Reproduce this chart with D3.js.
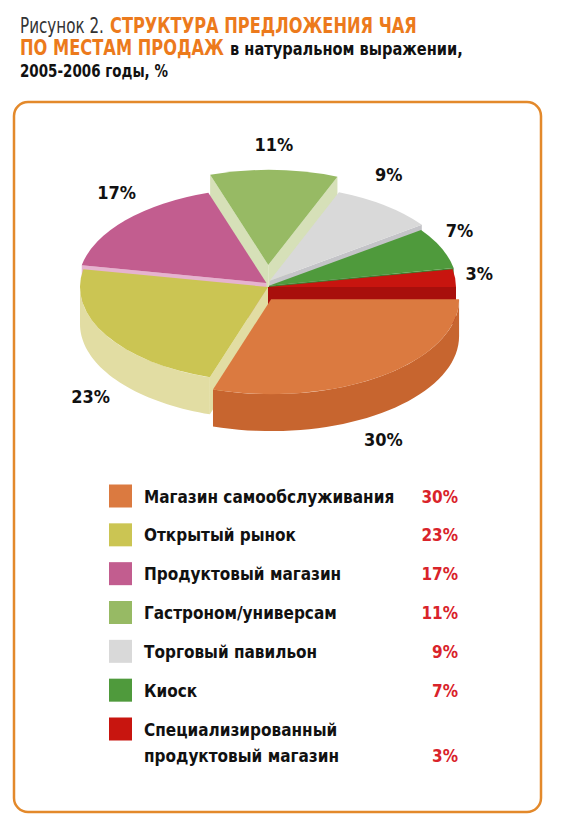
<!DOCTYPE html>
<html>
<head>
<meta charset="utf-8">
<script src="https://cdn.jsdelivr.net/npm/d3@7"></script>
<style>
  body { margin: 0; background: #fff; }
  svg text { font-family: "DejaVu Sans Condensed", "DejaVu Sans", sans-serif; }
</style>
</head>
<body>
<svg id="chart" width="562" height="832"></svg>
<script>
// data
const categories = [
    "Магазин самообслуживания",
    "Открытый рынок",
    "Продуктовый магазин",
    "Гастроном/универсам",
    "Торговый павильон",
    "Киоск",
    "Специализированный\nпродуктовый магазин"
];
const shares = [30, 23, 17, 11, 9, 7, 3];
const shareLabels = ["30%", "23%", "17%", "11%", "9%", "7%", "3%"];

// styles
const topColors  = ["#db7a40", "#cbc553", "#c25d8f", "#97ba64", "#d9d9d9", "#4f9a3c", "#c8150f"];
const sideColors = ["#c7652f", "#e2dda3", "#e6b3cf", "#d6e0b8", "#c4c4c8", "#3f7f2e", "#a80f0c"];
const explode    = [15, 0, 6, 22, 8, 3, 0];

const svg = d3.select('#chart');

// frame
svg.append('rect')
    .attr('x', 14).attr('y', 102)
    .attr('width', 527).attr('height', 710)
    .attr('rx', 14)
    .attr('fill', '#fff')
    .attr('stroke', '#e3892b')
    .attr('stroke-width', 2.5);

// title - condensed by squeezing each piece to its width
const orange = '#ec7a1c';
function titlePart(txt, x, y, w, size, weight, fill) {
    const t = svg.append('text')
        .attr('font-size', size)
        .attr('font-weight', weight)
        .attr('fill', fill)
        .text(txt);
    const sx = w / t.node().getComputedTextLength();
    t.attr('transform', `translate(${x}, ${y}) scale(${sx}, 1)`);
}
titlePart('Рисунок 2.', 20, 33, 84, 21, 'normal', '#333');
titlePart('СТРУКТУРА ПРЕДЛОЖЕНИЯ ЧАЯ', 110, 33, 307, 21, 'bold', orange);
titlePart('ПО МЕСТАМ ПРОДАЖ', 20, 55, 204, 21, 'bold', orange);
titlePart('в натуральном выражении,', 230, 55, 233, 18, 'bold', '#111');
titlePart('2005-2006 годы, %', 20, 77, 148, 18, 'bold', '#111');

// 3d pie
const cx = 268, cy = 287, rx = 188, ry = 95, depth = 37;

const pie = d3.pie()
    .sort(null)
    .value(d => d)
    .startAngle(Math.PI / 2)
    .endAngle(Math.PI / 2 + 2 * Math.PI);

const arcs = pie(shares);
const arc = d3.arc().innerRadius(0).outerRadius(rx);

// screen angle: 0 at 3 o'clock, clockwise
const phi = a => a - Math.PI / 2;
const pt = (p, r = 1) => [rx * r * Math.cos(p), ry * r * Math.sin(p)];
const line = d3.line();

const slices = arcs.map((d, i) => {
    const a0 = phi(d.startAngle), a1 = phi(d.endAngle);
    const mid = (a0 + a1) / 2;
    return {
        d, i, a0, a1, mid,
        ox: Math.cos(mid) * explode[i] * 0.35,
        oy: Math.sin(mid) * explode[i]
    };
});

// back to front
const order = slices.slice().sort((a, b) => Math.sin(a.mid) - Math.sin(b.mid));

const pieG = svg.append('g');

order.forEach(s => {
    const g = pieG.append('g')
        .attr('transform', `translate(${cx + s.ox}, ${cy + s.oy})`);

    // cut faces
    [[s.a0, Math.cos(s.a0) < 0], [s.a1, Math.cos(s.a1) > 0]].forEach(([a, vis]) => {
        if (!vis) return;
        const p = pt(a);
        g.append('path')
            .attr('d', line([[0, 0], p, [p[0], p[1] + depth], [0, depth]]) + 'Z')
            .attr('fill', sideColors[s.i]);
    });

    // outer wall (front half only)
    const w0 = Math.max(s.a0, 0), w1 = Math.min(s.a1, Math.PI);
    if (w1 > w0) {
        const steps = d3.range(0, 41).map(j => w0 + (w1 - w0) * j / 40);
        const upper = steps.map(a => pt(a));
        const lower = steps.slice().reverse().map(a => { const p = pt(a); return [p[0], p[1] + depth]; });
        g.append('path')
            .attr('d', line(upper.concat(lower)) + 'Z')
            .attr('fill', sideColors[s.i]);
    }

    // top
    g.append('path')
        .attr('d', arc(s.d))
        .attr('transform', `scale(1, ${ry / rx})`)
        .attr('fill', topColors[s.i]);
});

// value labels round the pie
svg.append('g').selectAll('text')
    .data(slices)
    .join('text')
    .attr('x', s => {
        const c = Math.cos(s.mid);
        return cx + rx * c * (1 + 0.13 * c * c);
    })
    .attr('y', s => cy + ry * 1.5 * Math.sin(s.mid) + (Math.sin(s.mid) > 0 ? depth : 0))
    .attr('dy', '0.35em')
    .attr('text-anchor', 'middle')
    .attr('font-size', 18)
    .attr('font-weight', 'bold')
    .attr('fill', '#111')
    .text(s => shareLabels[s.i]);

// legend
const rowY = d3.scalePoint()
    .domain(categories)
    .range([496, 729]);

const legend = svg.append('g');
const rows = legend.selectAll('g')
    .data(categories)
    .join('g')
    .attr('transform', d => `translate(0, ${rowY(d)})`);

rows.append('rect')
    .attr('x', 109).attr('y', -11.5)
    .attr('width', 23).attr('height', 23)
    .attr('fill', (d, i) => topColors[i]);

rows.append('text')
    .attr('x', 144)
    .attr('y', 6.5)
    .attr('font-size', 17)
    .attr('font-weight', 'bold')
    .attr('fill', '#111')
    .selectAll('tspan')
    .data(d => d.split('\n'))
    .join('tspan')
    .attr('x', 144)
    .attr('dy', (d, j) => j ? 26 : 0)
    .text(d => d);

rows.append('text')
    .attr('x', 458)
    .attr('y', d => 6.5 + (d.split('\n').length - 1) * 26)
    .attr('text-anchor', 'end')
    .attr('font-size', 17)
    .attr('font-weight', 'bold')
    .attr('fill', '#d9232a')
    .text((d, i) => shareLabels[i]);
</script>
</body>
</html>
